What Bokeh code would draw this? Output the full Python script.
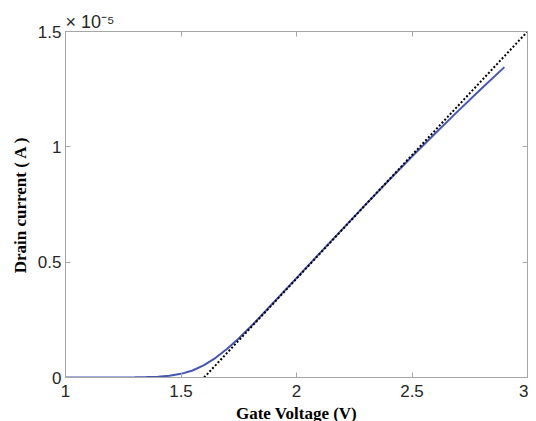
from bokeh.plotting import figure
from bokeh.models import LinearAxis, FixedTicker, Range1d
from bokeh.embed import file_html
from bokeh.resources import INLINE

# Data (current in units of 1e-5 A)
gate_voltage = [1.0, 1.1, 1.2, 1.3, 1.35, 1.4, 1.45, 1.5, 1.55, 1.6, 1.65, 1.7,
                1.75, 1.8, 1.85, 1.9, 1.95, 2.0, 2.1, 2.2, 2.3, 2.4, 2.5, 2.6,
                2.7, 2.8, 2.9]
drain_current = [0.0, 0.0, 0.0003, 0.001, 0.0018, 0.003, 0.0073, 0.0158, 0.0303,
                 0.0533, 0.0853, 0.1245, 0.1695, 0.2188, 0.2708, 0.324, 0.3775,
                 0.431, 0.538, 0.6446, 0.7506, 0.8553, 0.958, 1.058, 1.156,
                 1.2515, 1.3455]
tangent_v = [1.6, 3.0]
tangent_i = [0.0, 1.5]
x_ticks = [1, 1.5, 2, 2.5, 3]
x_tick_labels = ["1", "1.5", "2", "2.5", "3"]
y_ticks = [0, 0.5, 1, 1.5]
y_tick_labels = ["0", "0.5", "1", "1.5"]
exponent_text = "\u00d7 10\u207b\u2075"

frame_col = "#a6a6a6"
tick_col = "#262626"

p = figure(frame_width=462, frame_height=346, output_backend="svg",
           toolbar_location=None, x_range=Range1d(1, 3), y_range=Range1d(0, 1.5),
           x_axis_location=None, y_axis_location=None,
           min_border_left=65, min_border_top=31, min_border_right=1,
           min_border_bottom=10, title=exponent_text)
p.grid.visible = False
p.outline_line_color = frame_col
p.background_fill_color = "white"
p.border_fill_color = "white"

p.title.align = "left"
p.title.text_font = "Liberation Sans"
p.title.text_font_size = "18px"
p.title.text_font_style = "normal"
p.title.text_color = tick_col
p.title.standoff = 0
p.title.offset = 0

def style_axis(ax, show_labels=True):
    ax.axis_line_color = frame_col
    ax.major_tick_line_color = frame_col
    ax.major_tick_in = 5
    ax.major_tick_out = 0
    ax.minor_tick_line_color = None
    ax.major_label_text_font = "Liberation Sans"
    ax.major_label_text_font_size = "17px"
    ax.major_label_text_color = tick_col
    if not show_labels:
        ax.major_label_text_color = None
        ax.major_label_text_font_size = "1px"
        ax.major_label_standoff = 0

xb = LinearAxis(ticker=FixedTicker(ticks=x_ticks),
                major_label_overrides=dict(zip(x_ticks, x_tick_labels)))
style_axis(xb)
xb.major_label_standoff = 7
xb.axis_label = "Gate Voltage (V)"
xb.axis_label_text_font = "Liberation Serif"
xb.axis_label_text_font_style = "bold"
xb.axis_label_text_font_size = "17px"
xb.axis_label_text_color = "black"
xb.axis_label_standoff = 4
p.add_layout(xb, "below")

yl = LinearAxis(ticker=FixedTicker(ticks=y_ticks),
                major_label_overrides=dict(zip(y_ticks, y_tick_labels)))
style_axis(yl)
yl.major_label_standoff = 4
yl.axis_label = "Drain current ( A )"
yl.axis_label_text_font = "Liberation Serif"
yl.axis_label_text_font_style = "bold"
yl.axis_label_text_font_size = "17px"
yl.axis_label_text_color = "black"
yl.axis_label_standoff = 5
p.add_layout(yl, "left")

xt = LinearAxis(ticker=FixedTicker(ticks=x_ticks))
style_axis(xt, False)
p.add_layout(xt, "above")
yr = LinearAxis(ticker=FixedTicker(ticks=y_ticks))
style_axis(yr, False)
p.add_layout(yr, "right")

p.line(gate_voltage, drain_current, line_color="#4656b4", line_width=2)
p.line(tangent_v, tangent_i, line_color="black", line_width=2, line_dash="2 2")

open("out.html", "w").write(file_html(p, INLINE))
